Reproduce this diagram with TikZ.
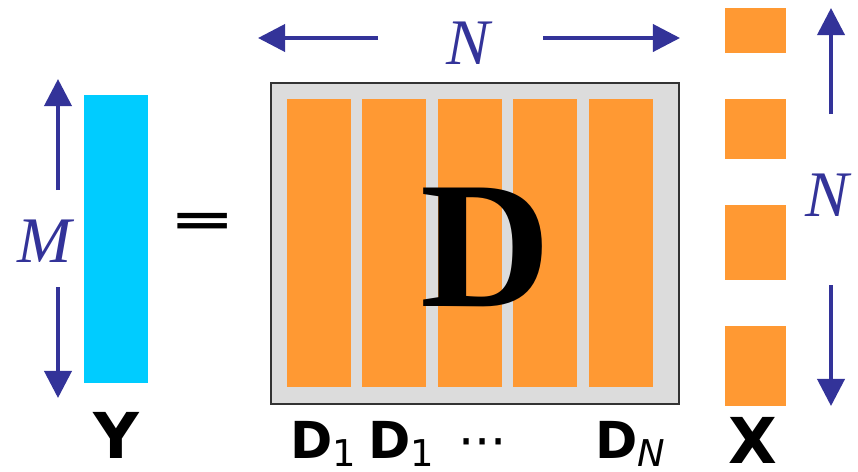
\documentclass[tikz,border=0pt]{standalone}
\usepackage{fontspec}
\setsansfont{DejaVu Sans}
\newfontfamily\dimfont{Liberation Serif}
\newfontfamily\bigfont{Liberation Serif}
\usetikzlibrary{arrows.meta, positioning}

\definecolor{dimblue}{HTML}{333399}
\definecolor{ycyan}{HTML}{00CCFF}
\definecolor{atomorange}{HTML}{FF9933}
\definecolor{dictgray}{HTML}{DCDCDC}
\definecolor{dictframe}{HTML}{333333}

\newcommand{\atomsub}[1]{\raisebox{-0.16em}{\fontsize{21}{21}\selectfont\mdseries #1}}

\begin{document}
\begin{tikzpicture}[
    x=0.02cm, y=-0.02cm,
    dimarrow/.style={-{Triangle[length=15.5pt, width=15.5pt]}, dimblue,
                     line width=2.2pt},
    dimlabel/.style={font=\dimfont\itshape\fontsize{37}{37}\selectfont,
                     text=dimblue, inner sep=0},
    atom/.style={fill=atomorange, minimum width=1.28cm,
                 minimum height=5.76cm, inner sep=0},
    entry/.style={fill=atomorange, minimum width=1.22cm, inner sep=0},
    veclabel/.style={font=\sffamily\bfseries\fontsize{36}{36}\selectfont,
                     inner sep=0},
    atomlabel/.style={font=\sffamily\bfseries\fontsize{29}{29}\selectfont,
                      inner sep=0, anchor=base west}
  ]
  \useasboundingbox (0,0) rectangle (858,471);

  % Signal Y
  \node[fill=ycyan, minimum width=1.28cm, minimum height=5.76cm,
        inner sep=0] (ybar) at (116,239) {};
  \node[veclabel] (ylab) at (116,435) {Y};
  \node[dimlabel] (mlab) at (45,241) {M};
  \coordinate (mtail-u) at (58,190);
  \coordinate (mtip-u) at (58,79);
  \coordinate (mtail-d) at (58,287);
  \coordinate (mtip-d) at (58,398);
  \draw[dimarrow] (mtail-u) -- (mtip-u);
  \draw[dimarrow] (mtail-d) -- (mtip-d);

  \node[font=\sffamily\bfseries\fontsize{45}{45}\selectfont, inner sep=0]
    (eq) at (203,224) {\scalebox{1}[0.58]{=}};

  % Dictionary D
  \node[draw=dictframe, line width=1pt, fill=dictgray,
        minimum width=8.16cm, minimum height=6.42cm, inner sep=0] (dict)
    at (475,243.5) {};
  \foreach \i/\x in {1/319, 2/394, 3/470, 4/545, 5/621} {
    \node[atom] (d\i) at (\x,243) {};
  }
  \node[font=\bigfont\bfseries\fontsize{103}{103}\selectfont, inner sep=0]
    (dbig) at (486,247) {D};

  \node[dimlabel] (ntop) at (468,43) {N};
  \coordinate (ntail-l) at (378,38);
  \coordinate (ntip-l) at (258,38);
  \coordinate (ntail-r) at (543,38);
  \coordinate (ntip-r) at (680,38);
  \draw[dimarrow] (ntail-l) -- (ntip-l);
  \draw[dimarrow] (ntail-r) -- (ntip-r);

  \node[atomlabel] (lab1) at (290,458) {D\atomsub{1}};
  \node[atomlabel] (lab2) at (368,458) {D\atomsub{1}};
  \node[atomlabel, font=\sffamily\fontsize{29}{29}\selectfont]
    (dots) at (458,459) {···};
  \node[atomlabel] (labN) at (595,458) {D\atomsub{\itshape N}};

  % Coefficients X
  \foreach \i/\y/\h in {1/30.5/45, 2/129/60, 3/242.5/75, 4/366/80} {
    \node[entry, minimum height=\h*0.02cm] (x\i) at (755.5,\y) {};
  }
  \node[veclabel] (xlab) at (753,440) {X};
  \node[dimlabel] (nright) at (827,195) {N};
  \coordinate (ntail-u) at (831,114);
  \coordinate (ntip-u) at (831,8);
  \coordinate (ntail-d) at (831,285);
  \coordinate (ntip-d) at (831,406);
  \draw[dimarrow] (ntail-u) -- (ntip-u);
  \draw[dimarrow] (ntail-d) -- (ntip-d);
\end{tikzpicture}
\end{document}
